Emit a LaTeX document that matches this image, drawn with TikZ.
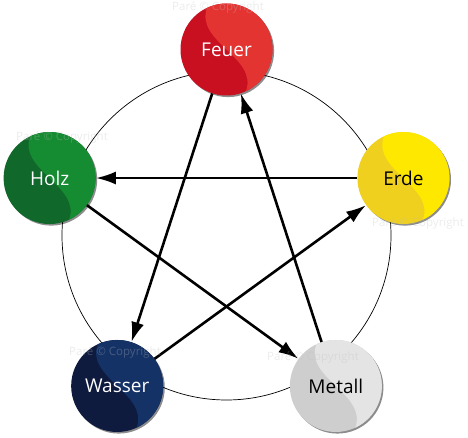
\documentclass[tikz,border=0pt]{standalone}
\usepackage{fontspec}
\setmainfont{Open Sans}
\usetikzlibrary{arrows.meta,shadows}

\definecolor{feuerdunkel}{RGB}{200,16,32}
\definecolor{feuerhell}{RGB}{228,52,50}
\definecolor{holzdunkel}{RGB}{16,104,42}
\definecolor{holzhell}{RGB}{22,140,50}
\definecolor{erdedunkel}{RGB}{240,208,30}
\definecolor{erdehell}{RGB}{255,232,0}
\definecolor{wasserdunkel}{RGB}{14,26,62}
\definecolor{wasserhell}{RGB}{20,50,102}
\definecolor{metalldunkel}{RGB}{206,206,206}
\definecolor{metallhell}{RGB}{228,228,228}

\begin{document}
\begin{tikzpicture}[->,>={Latex[length=20pt,width=13pt]},
    pfeil/.style={line width=2.6pt},
    kugel/.style={circle,minimum size=92pt,inner sep=0pt,fill=#1,
      drop shadow={shadow xshift=1.6pt,shadow yshift=-1.6pt,opacity=0.45,fill=black}},
    beschriftung/.style={text=#1,font=\fontsize{19}{22}\selectfont},
    zeichen/.style={text=gray!50,opacity=0.3,font=\fontsize{11.5}{14}\selectfont}]
  \useasboundingbox (-226.5pt,-202.5pt) rectangle (241.5pt,235.5pt);
  \coordinate (m) at (0,0);
  \draw[-,line width=0.7pt] (m) circle (164.5pt);

  % die fuenf Elemente
  \foreach \n/\wort/\dunkel/\hell/\schrift/\w in {
      feuer/Feuer/feuerdunkel/feuerhell/white/90,
      erde/Erde/erdedunkel/erdehell/black/18,
      metall/Metall/metalldunkel/metallhell/black/-54,
      wasser/Wasser/wasserdunkel/wasserhell/white/234,
      holz/Holz/holzdunkel/holzhell/white/162} {
    \node[kugel=\dunkel] (\n) at (\w:186pt) {};
    \fill[\hell] ([shift={(115:46pt)}]\n.center)
      arc[start angle=115,end angle=-65,radius=46pt]
      .. controls ([shift={(32pt,-8pt)}]\n.center) and ([shift={(-32pt,8pt)}]\n.center)
      .. ([shift={(115:46pt)}]\n.center) -- cycle;
    \node[beschriftung=\schrift] (\n text) at (\n) {\wort};
  }

  % Pfeile
  \draw[pfeil] (feuer) -- (wasser);
  \draw[pfeil] (wasser) -- (erde);
  \draw[pfeil] (erde) -- (holz);
  \draw[pfeil] (holz) -- (metall);
  \draw[pfeil] (metall) -- (feuer);

  % Wasserzeichen
  \node[zeichen] (z1) at (-8.5pt,228.5pt) {Paré © Copyright};
  \node[zeichen] (z2) at (-164.5pt,98.5pt) {Paré © Copyright};
  \node[zeichen] (z3) at (191.5pt,12.5pt) {Paré © Copyright};
  \node[zeichen] (z4) at (-111.5pt,-116.5pt) {Paré © Copyright};
  \node[zeichen] (z5) at (86.5pt,-121.5pt) {Paré © Copyright};
\end{tikzpicture}
\end{document}
